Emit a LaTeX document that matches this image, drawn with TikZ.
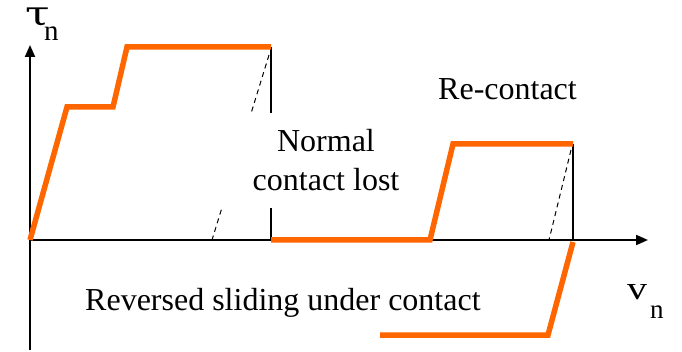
\documentclass[tikz,border=0pt]{standalone}
\usepackage{fontspec}
\setmainfont{Liberation Serif}
\newfontfamily\greekserif{DejaVu Serif}
\usetikzlibrary{arrows.meta}
\definecolor{curveorange}{RGB}{255,102,0}
\begin{document}
\begin{tikzpicture}[x=1pt,y=-1pt,
  axis/.style={line width=2pt,-{Triangle[length=12pt,width=10pt]}},
  curve/.style={draw=curveorange,line width=5.5pt},
  thinline/.style={line width=1.3pt},
  unload/.style={line width=1pt,dash pattern=on 5pt off 4pt},
  lbl/.style={font=\fontsize{32}{39}\selectfont,inner sep=0pt},
]
\useasboundingbox (0,0) rectangle (682,352);
% axes
\coordinate (O) at (30,240);
\coordinate (ytop) at (30,45);
\coordinate (ybot) at (30,350);
\coordinate (xend) at (648,240);
\draw[axis] (ybot) -- (ytop);
\draw[axis] (O) -- (xend);
% first loading branch
\coordinate (A1) at (67,107);
\coordinate (A2) at (113,107);
\coordinate (A3) at (127,47);
\coordinate (A4) at (271,47);
\coordinate (A5) at (271,240);
\draw[unload] (269,55) -- (212,240);
\draw[thinline] (A4) -- (A5);
\draw[curve] (O) -- (A1) -- (A2) -- (A3) -- (A4);
% contact lost, re-contact
\coordinate (B1) at (430,240);
\coordinate (B2) at (453,144);
\coordinate (B3) at (573,144);
\coordinate (B4) at (573,240);
\draw[unload] (571,150) -- (549,240);
\draw[thinline] (B3) -- (B4);
\draw[curve] (A5) -- (B1) -- (B2) -- (B3);
% reversed sliding
\coordinate (C0) at (573,242);
\coordinate (C1) at (548,335);
\coordinate (C2) at (380,335);
\draw[curve] (C0) -- (C1) -- (C2);
% labels
\node[lbl,fill=white,align=center,minimum width=212pt,minimum height=95pt] (lost) at (326,160.5) {Normal\\contact lost};
\node[lbl,anchor=base west] (recontact) at (438,100) {Re-contact};
\node[lbl,anchor=base west] (reversed) at (85,310) {Reversed sliding under contact};
\node[inner sep=0pt,anchor=base west,font=\greekserif\fontsize{34}{34}\selectfont] (tau) at (25,26) {\scalebox{1.3}[1]{τ}};
\node[inner sep=0pt,anchor=base west,font=\fontsize{29}{29}\selectfont] (taun) at (44,41) {n};
\node[inner sep=0pt,anchor=base west] (vel) at (627,300) {\resizebox{20pt}{15pt}{v}};
\node[inner sep=0pt,anchor=base west,font=\fontsize{27}{27}\selectfont] (veln) at (650,318) {n};
\end{tikzpicture}
\end{document}
